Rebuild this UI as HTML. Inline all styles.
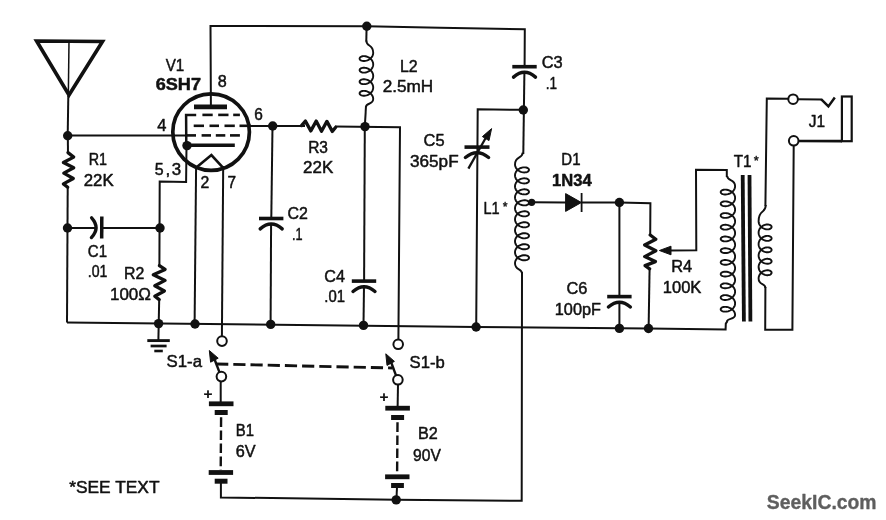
<!DOCTYPE html>
<html><head><meta charset="utf-8"><title>schematic</title>
<style>
html,body{margin:0;padding:0;background:#fff;}
body{width:886px;height:520px;overflow:hidden;}
svg{display:block;font-family:"Liberation Sans",sans-serif;}
</style></head>
<body>
<svg width="886" height="520" viewBox="0 0 886 520" stroke="#111" fill="none">
<rect x="0" y="0" width="886" height="520" fill="#fff" stroke="none"/>
<path d="M36.6 41.0 L102.5 41.5 L69.0 95.0 Z" stroke-width="3.6" stroke-linejoin="miter" stroke-linecap="butt" fill="none"/>
<line x1="69.0" y1="41.0" x2="68.3" y2="97.0" stroke-width="1.5" stroke-linecap="butt"/>
<line x1="68.3" y1="96.0" x2="67.7" y2="136.0" stroke-width="2.0" stroke-linecap="butt"/>
<line x1="67.8" y1="135.7" x2="68.0" y2="153.0" stroke-width="2.0" stroke-linecap="butt"/>
<path d="M68.0 152.6 L73.7 157.1 L63.4 162.5 L73.7 167.7 L63.8 173.1 L73.3 178.5 L63.4 183.9 L67.7 187.3" stroke-width="3.3" stroke-linejoin="round" stroke-linecap="round" fill="none"/>
<line x1="67.7" y1="186.8" x2="67.0" y2="322.6" stroke-width="2.0" stroke-linecap="butt"/>
<line x1="67.7" y1="135.6" x2="186.0" y2="135.4" stroke-width="2.0" stroke-linecap="butt"/>
<path d="M210.9 106.0 L210.5 26.0 L366.8 26.2 L440.0 27.8 L524.8 29.2 L524.6 66.0" stroke-width="2.0" stroke-linejoin="miter" stroke-linecap="butt" fill="none"/>
<line x1="524.4" y1="72.0" x2="523.3" y2="154.0" stroke-width="2.0" stroke-linecap="butt"/>
<path d="M523.3 109.8 L477.7 109.3 L476.2 327.0" stroke-width="2.0" stroke-linejoin="miter" stroke-linecap="butt" fill="none"/>
<line x1="366.6" y1="26.0" x2="366.3" y2="41.5" stroke-width="2.0" stroke-linecap="butt"/>
<line x1="366.0" y1="106.0" x2="364.8" y2="127.0" stroke-width="2.0" stroke-linecap="butt"/>
<line x1="250.0" y1="126.0" x2="305.0" y2="126.0" stroke-width="2.0" stroke-linecap="butt"/>
<path d="M301.5 125.6 L305.4 121.1 L310.8 130.9 L316.2 121.1 L321.5 131.2 L326.9 121.4 L332.3 131.4 L335.7 127.2" stroke-width="3.3" stroke-linejoin="round" stroke-linecap="round" fill="none"/>
<path d="M335.0 126.5 L400.0 127.3 L398.4 339.0" stroke-width="2.0" stroke-linejoin="miter" stroke-linecap="butt" fill="none"/>
<line x1="272.5" y1="126.0" x2="271.3" y2="218.0" stroke-width="2.0" stroke-linecap="butt"/>
<line x1="271.1" y1="223.0" x2="270.6" y2="324.0" stroke-width="2.0" stroke-linecap="butt"/>
<line x1="364.8" y1="126.5" x2="364.1" y2="280.5" stroke-width="2.0" stroke-linecap="butt"/>
<line x1="364.0" y1="285.0" x2="363.5" y2="325.0" stroke-width="2.0" stroke-linecap="butt"/>
<path d="M186.5 145.7 L186.1 181.9 L159.7 181.6 L159.4 266.5" stroke-width="2.0" stroke-linejoin="miter" stroke-linecap="butt" fill="none"/>
<path d="M159.4 265.6 L165.1 269.4 L153.3 274.8 L165.1 280.4 L154.8 285.7 L164.4 291.0 L154.8 296.2 L159.2 299.6" stroke-width="3.3" stroke-linejoin="round" stroke-linecap="round" fill="none"/>
<line x1="159.2" y1="299.0" x2="158.4" y2="340.0" stroke-width="2.0" stroke-linecap="butt"/>
<line x1="67.5" y1="228.0" x2="95.5" y2="228.0" stroke-width="2.0" stroke-linecap="butt"/>
<line x1="101.7" y1="228.0" x2="160.0" y2="228.0" stroke-width="2.0" stroke-linecap="butt"/>
<line x1="196.1" y1="166.0" x2="194.6" y2="324.0" stroke-width="2.0" stroke-linecap="butt"/>
<line x1="223.2" y1="166.0" x2="221.9" y2="336.5" stroke-width="2.0" stroke-linecap="butt"/>
<path d="M67.0 322.4 L476.0 326.9 L648.5 328.6 L725.6 329.4 L725.8 323.6 L727.5 321.0" stroke-width="2.0" stroke-linejoin="miter" stroke-linecap="butt" fill="none"/>
<path d="M522.0 272.0 L521.7 500.8 L396.0 499.8 L220.9 497.4 L220.9 482.0" stroke-width="2.0" stroke-linejoin="miter" stroke-linecap="butt" fill="none"/>
<line x1="531.7" y1="202.3" x2="566.0" y2="202.4" stroke-width="2.0" stroke-linecap="butt"/>
<line x1="581.5" y1="202.5" x2="619.4" y2="202.6" stroke-width="2.0" stroke-linecap="butt"/>
<path d="M619.4 202.4 L650.4 203.3 L650.2 236.0" stroke-width="2.0" stroke-linejoin="miter" stroke-linecap="butt" fill="none"/>
<line x1="649.6" y1="268.0" x2="648.6" y2="328.5" stroke-width="2.0" stroke-linecap="butt"/>
<line x1="619.4" y1="202.6" x2="619.4" y2="296.0" stroke-width="2.0" stroke-linecap="butt"/>
<line x1="619.4" y1="301.5" x2="619.4" y2="328.4" stroke-width="2.0" stroke-linecap="butt"/>
<path d="M670.0 250.5 L696.3 250.3 L696.0 169.8 L726.8 170.1 L726.8 177.0" stroke-width="2.0" stroke-linejoin="miter" stroke-linecap="butt" fill="none"/>
<path d="M765.4 206.0 L766.8 98.6 L788.5 98.8" stroke-width="2.0" stroke-linejoin="miter" stroke-linecap="butt" fill="none"/>
<line x1="797.6" y1="99.2" x2="822.0" y2="99.6" stroke-width="2.0" stroke-linecap="butt"/>
<path d="M821.3 99.3 L828.4 106.4 L834.8 97.6" stroke-width="2.5" stroke-linejoin="miter" stroke-linecap="butt" fill="none"/>
<path d="M765.4 287.0 L765.2 329.7 L792.4 329.7 L793.7 145.5" stroke-width="2.0" stroke-linejoin="miter" stroke-linecap="butt" fill="none"/>
<line x1="798.3" y1="141.0" x2="842.0" y2="141.1" stroke-width="2.7" stroke-linecap="butt"/>
<line x1="220.7" y1="381.0" x2="220.7" y2="403.0" stroke-width="2.0" stroke-linecap="butt"/>
<line x1="398.0" y1="384.5" x2="397.6" y2="408.0" stroke-width="2.0" stroke-linecap="butt"/>
<line x1="397.0" y1="487.0" x2="396.4" y2="500.0" stroke-width="2.0" stroke-linecap="butt"/>
<circle cx="67.7" cy="135.7" r="4.7" fill="#111" stroke="none"/>
<circle cx="67.5" cy="228.0" r="4.7" fill="#111" stroke="none"/>
<circle cx="160.0" cy="228.0" r="4.7" fill="#111" stroke="none"/>
<circle cx="187.0" cy="145.6" r="4.7" fill="#111" stroke="none"/>
<circle cx="158.6" cy="323.6" r="4.7" fill="#111" stroke="none"/>
<circle cx="195.0" cy="324.0" r="4.7" fill="#111" stroke="none"/>
<circle cx="270.7" cy="324.4" r="4.7" fill="#111" stroke="none"/>
<circle cx="272.7" cy="126.0" r="4.7" fill="#111" stroke="none"/>
<circle cx="365.0" cy="126.6" r="4.7" fill="#111" stroke="none"/>
<circle cx="366.8" cy="26.2" r="4.7" fill="#111" stroke="none"/>
<circle cx="363.5" cy="325.4" r="4.7" fill="#111" stroke="none"/>
<circle cx="476.1" cy="327.0" r="4.7" fill="#111" stroke="none"/>
<circle cx="523.3" cy="110.0" r="4.7" fill="#111" stroke="none"/>
<circle cx="619.4" cy="202.5" r="4.7" fill="#111" stroke="none"/>
<circle cx="619.4" cy="328.4" r="4.7" fill="#111" stroke="none"/>
<circle cx="648.5" cy="328.5" r="4.7" fill="#111" stroke="none"/>
<circle cx="396.2" cy="499.9" r="4.7" fill="#111" stroke="none"/>
<circle cx="531.7" cy="202.3" r="3.6" fill="#111" stroke="none"/>
<circle cx="211.1" cy="132.1" r="38.3" fill="none" stroke-width="3.7"/>
<line x1="194.0" y1="106.8" x2="227.0" y2="106.8" stroke-width="4.7" stroke-linecap="butt"/>
<path d="M186.3 146.0 L186.1 114.9 L196.2 114.9" stroke-width="2.5" stroke-linejoin="miter" stroke-linecap="butt" fill="none"/>
<line x1="202.4" y1="114.9" x2="212.7" y2="114.9" stroke-width="2.6" stroke-linecap="butt"/>
<line x1="218.2" y1="114.9" x2="228.5" y2="114.9" stroke-width="2.6" stroke-linecap="butt"/>
<line x1="233.2" y1="114.9" x2="239.9" y2="114.9" stroke-width="2.6" stroke-linecap="butt"/>
<line x1="193.7" y1="125.8" x2="204.0" y2="125.8" stroke-width="2.6" stroke-linecap="butt"/>
<line x1="209.5" y1="125.8" x2="219.0" y2="125.8" stroke-width="2.6" stroke-linecap="butt"/>
<line x1="224.5" y1="125.8" x2="234.8" y2="125.8" stroke-width="2.6" stroke-linecap="butt"/>
<line x1="239.5" y1="125.8" x2="251.0" y2="125.8" stroke-width="2.6" stroke-linecap="butt"/>
<line x1="185.0" y1="135.4" x2="196.0" y2="135.4" stroke-width="2.6" stroke-linecap="butt"/>
<line x1="201.6" y1="135.4" x2="211.0" y2="135.4" stroke-width="2.6" stroke-linecap="butt"/>
<line x1="215.8" y1="135.4" x2="225.3" y2="135.4" stroke-width="2.6" stroke-linecap="butt"/>
<line x1="230.0" y1="135.4" x2="239.9" y2="135.4" stroke-width="2.6" stroke-linecap="butt"/>
<line x1="187.0" y1="145.2" x2="234.8" y2="145.2" stroke-width="3.6" stroke-linecap="butt"/>
<path d="M196.0 167.8 L211.4 155.0 L223.2 167.8" stroke-width="2.6" stroke-linejoin="miter" stroke-linecap="butt" fill="none"/>
<line x1="512.3" y1="66.7" x2="536.7" y2="66.7" stroke-width="3.6" stroke-linecap="butt"/>
<path d="M513.5 77.1 Q524.5 67.5 535.5 77.1" stroke-width="3.4" fill="none" stroke-linecap="round" stroke-linejoin="round"/>
<line x1="259.0" y1="218.5" x2="283.4" y2="218.5" stroke-width="3.6" stroke-linecap="butt"/>
<path d="M260.2 228.9 Q271.2 219.3 282.2 228.9" stroke-width="3.4" fill="none" stroke-linecap="round" stroke-linejoin="round"/>
<line x1="351.8" y1="281.1" x2="376.2" y2="281.1" stroke-width="3.6" stroke-linecap="butt"/>
<path d="M353.0 291.5 Q364.0 281.9 375.0 291.5" stroke-width="3.4" fill="none" stroke-linecap="round" stroke-linejoin="round"/>
<line x1="607.2" y1="296.6" x2="631.6" y2="296.6" stroke-width="3.6" stroke-linecap="butt"/>
<path d="M608.4 307.0 Q619.4 297.4 630.4 307.0" stroke-width="3.4" fill="none" stroke-linecap="round" stroke-linejoin="round"/>
<line x1="464.5" y1="147.1" x2="489.5" y2="147.1" stroke-width="3.6" stroke-linecap="butt"/>
<path d="M465.4 157.5 Q477.0 147.9 488.6 157.5" stroke-width="3.4" fill="none" stroke-linecap="round" stroke-linejoin="round"/>
<line x1="468.4" y1="168.6" x2="486.5" y2="136.5" stroke-width="2.3" stroke-linecap="butt"/>
<path d="M491.6 128.6 L482.4 136.6 L489.0 140.6 Z" stroke-width="1" stroke-linejoin="miter" stroke-linecap="butt" fill="#111"/>
<line x1="101.8" y1="216.4" x2="101.7" y2="238.4" stroke-width="3.5" stroke-linecap="butt"/>
<path d="M91.6 217.8 Q100.6 227.7 91.4 237.6" stroke-width="3.3" fill="none" stroke-linecap="round" stroke-linejoin="round"/>
<path d="M366.3 40.5 C366.3 47.3 373.2 43.6 373.2 52.8 L373.12 53.87 L372.87 54.92 L372.46 55.94 L371.90 56.90 L371.21 57.78 L370.40 58.58 L369.49 59.28 L368.50 59.87 L367.46 60.34 L366.40 60.69 L365.34 60.92 L364.30 61.03 L363.31 61.02 L362.40 60.89 L361.59 60.67 L360.90 60.37 L360.34 59.99 L359.93 59.55 L359.68 59.08 L359.60 58.58 L359.68 58.09 L359.93 57.62 L360.34 57.18 L360.90 56.80 L361.59 56.50 L362.40 56.28 L363.31 56.15 L364.30 56.14 L365.34 56.25 L366.40 56.48 L367.46 56.83 L368.50 57.30 L369.49 57.89 L370.40 58.59 L371.21 59.39 L371.90 60.27 L372.46 61.23 L372.87 62.25 L373.12 63.30 L373.20 64.37 L373.12 65.44 L372.87 66.49 L372.46 67.51 L371.90 68.47 L371.21 69.35 L370.40 70.15 L369.49 70.85 L368.50 71.44 L367.46 71.91 L366.40 72.26 L365.34 72.49 L364.30 72.60 L363.31 72.59 L362.40 72.46 L361.59 72.24 L360.90 71.94 L360.34 71.56 L359.93 71.12 L359.68 70.65 L359.60 70.16 L359.68 69.66 L359.93 69.19 L360.34 68.75 L360.90 68.37 L361.59 68.07 L362.40 67.85 L363.31 67.72 L364.30 67.71 L365.34 67.82 L366.40 68.05 L367.46 68.40 L368.50 68.87 L369.49 69.46 L370.40 70.16 L371.21 70.96 L371.90 71.84 L372.46 72.80 L372.87 73.82 L373.12 74.87 L373.20 75.94 L373.12 77.01 L372.87 78.06 L372.46 79.08 L371.90 80.04 L371.21 80.92 L370.40 81.72 L369.49 82.42 L368.50 83.01 L367.46 83.48 L366.40 83.83 L365.34 84.06 L364.30 84.17 L363.31 84.16 L362.40 84.03 L361.59 83.81 L360.90 83.51 L360.34 83.13 L359.93 82.69 L359.68 82.22 L359.60 81.72 L359.68 81.23 L359.93 80.76 L360.34 80.32 L360.90 79.94 L361.59 79.64 L362.40 79.42 L363.31 79.29 L364.30 79.28 L365.34 79.39 L366.40 79.62 L367.46 79.97 L368.50 80.44 L369.49 81.03 L370.40 81.73 L371.21 82.53 L371.90 83.41 L372.46 84.37 L372.87 85.39 L373.12 86.44 L373.20 87.51 L373.12 88.58 L372.87 89.63 L372.46 90.65 L371.90 91.61 L371.21 92.49 L370.40 93.29 L369.49 93.99 L368.50 94.58 L367.46 95.05 L366.40 95.40 L365.34 95.63 L364.30 95.74 L363.31 95.73 L362.40 95.60 L361.59 95.38 L360.90 95.08 L360.34 94.70 L359.93 94.26 L359.68 93.79 L359.60 93.29 L359.68 92.80 L359.93 92.33 L360.34 91.89 L360.90 91.51 L361.59 91.21 L362.40 90.99 L363.31 90.86 L364.30 90.85 L365.34 90.96 L366.40 91.19 L367.46 91.54 L368.50 92.01 L369.49 92.60 L370.40 93.30 L371.21 94.10 L371.90 94.98 L372.46 95.94 L372.87 96.96 L373.12 98.01 L373.20 99.08 C373.2 105.0 366.0 102.6 366.0 107.0" stroke-width="1.9" fill="none" stroke-linecap="butt" stroke-linejoin="round"/>
<path d="M522.7 152.5 C522.7 159.0 515.0 155.5 515.0 164.4 L515.09 165.46 L515.34 166.49 L515.76 167.49 L516.34 168.44 L517.05 169.31 L517.89 170.09 L518.82 170.78 L519.84 171.35 L520.90 171.81 L522.00 172.15 L523.10 172.36 L524.16 172.45 L525.18 172.42 L526.11 172.29 L526.95 172.05 L527.66 171.73 L528.24 171.34 L528.66 170.89 L528.91 170.40 L529.00 169.89 L528.91 169.38 L528.66 168.89 L528.24 168.44 L527.66 168.05 L526.95 167.73 L526.11 167.49 L525.18 167.36 L524.16 167.33 L523.10 167.42 L522.00 167.64 L520.90 167.97 L519.84 168.43 L518.82 169.00 L517.89 169.69 L517.05 170.47 L516.34 171.34 L515.76 172.29 L515.34 173.29 L515.09 174.32 L515.00 175.38 L515.09 176.44 L515.34 177.47 L515.76 178.47 L516.34 179.42 L517.05 180.29 L517.89 181.07 L518.82 181.76 L519.84 182.33 L520.90 182.79 L522.00 183.12 L523.10 183.34 L524.16 183.43 L525.18 183.40 L526.11 183.27 L526.95 183.03 L527.66 182.71 L528.24 182.32 L528.66 181.87 L528.91 181.38 L529.00 180.87 L528.91 180.36 L528.66 179.87 L528.24 179.42 L527.66 179.03 L526.95 178.71 L526.11 178.47 L525.18 178.34 L524.16 178.31 L523.10 178.40 L522.00 178.62 L520.90 178.95 L519.84 179.41 L518.82 179.98 L517.89 180.67 L517.05 181.45 L516.34 182.32 L515.76 183.27 L515.34 184.27 L515.09 185.30 L515.00 186.36 L515.09 187.42 L515.34 188.45 L515.76 189.45 L516.34 190.40 L517.05 191.27 L517.89 192.05 L518.82 192.74 L519.84 193.31 L520.90 193.77 L522.00 194.11 L523.10 194.32 L524.16 194.41 L525.18 194.38 L526.11 194.25 L526.95 194.01 L527.66 193.69 L528.24 193.30 L528.66 192.85 L528.91 192.36 L529.00 191.85 L528.91 191.34 L528.66 190.85 L528.24 190.40 L527.66 190.01 L526.95 189.69 L526.11 189.45 L525.18 189.32 L524.16 189.29 L523.10 189.38 L522.00 189.59 L520.90 189.93 L519.84 190.39 L518.82 190.96 L517.89 191.65 L517.05 192.43 L516.34 193.30 L515.76 194.25 L515.34 195.25 L515.09 196.28 L515.00 197.34 L515.09 198.40 L515.34 199.43 L515.76 200.43 L516.34 201.38 L517.05 202.25 L517.89 203.03 L518.82 203.72 L519.84 204.29 L520.90 204.75 L522.00 205.09 L523.10 205.30 L524.16 205.39 L525.18 205.36 L526.11 205.23 L526.95 204.99 L527.66 204.67 L528.24 204.28 L528.66 203.83 L528.91 203.34 L529.00 202.83 L528.91 202.32 L528.66 201.83 L528.24 201.38 L527.66 200.99 L526.95 200.67 L526.11 200.43 L525.18 200.30 L524.16 200.27 L523.10 200.36 L522.00 200.58 L520.90 200.91 L519.84 201.37 L518.82 201.94 L517.89 202.63 L517.05 203.41 L516.34 204.28 L515.76 205.23 L515.34 206.23 L515.09 207.26 L515.00 208.32 L515.09 209.38 L515.34 210.41 L515.76 211.41 L516.34 212.36 L517.05 213.23 L517.89 214.01 L518.82 214.70 L519.84 215.27 L520.90 215.73 L522.00 216.06 L523.10 216.28 L524.16 216.37 L525.18 216.34 L526.11 216.21 L526.95 215.97 L527.66 215.65 L528.24 215.26 L528.66 214.81 L528.91 214.32 L529.00 213.81 L528.91 213.30 L528.66 212.81 L528.24 212.36 L527.66 211.97 L526.95 211.65 L526.11 211.41 L525.18 211.28 L524.16 211.25 L523.10 211.34 L522.00 211.56 L520.90 211.89 L519.84 212.35 L518.82 212.92 L517.89 213.61 L517.05 214.39 L516.34 215.26 L515.76 216.21 L515.34 217.21 L515.09 218.24 L515.00 219.30 L515.09 220.36 L515.34 221.39 L515.76 222.39 L516.34 223.34 L517.05 224.21 L517.89 224.99 L518.82 225.68 L519.84 226.25 L520.90 226.71 L522.00 227.04 L523.10 227.26 L524.16 227.35 L525.18 227.32 L526.11 227.19 L526.95 226.95 L527.66 226.63 L528.24 226.24 L528.66 225.79 L528.91 225.30 L529.00 224.79 L528.91 224.28 L528.66 223.79 L528.24 223.34 L527.66 222.95 L526.95 222.63 L526.11 222.39 L525.18 222.26 L524.16 222.23 L523.10 222.32 L522.00 222.54 L520.90 222.87 L519.84 223.33 L518.82 223.90 L517.89 224.59 L517.05 225.37 L516.34 226.24 L515.76 227.19 L515.34 228.19 L515.09 229.22 L515.00 230.28 L515.09 231.34 L515.34 232.37 L515.76 233.37 L516.34 234.32 L517.05 235.19 L517.89 235.97 L518.82 236.66 L519.84 237.23 L520.90 237.69 L522.00 238.03 L523.10 238.24 L524.16 238.33 L525.18 238.30 L526.11 238.17 L526.95 237.93 L527.66 237.61 L528.24 237.22 L528.66 236.77 L528.91 236.28 L529.00 235.77 L528.91 235.26 L528.66 234.77 L528.24 234.32 L527.66 233.93 L526.95 233.61 L526.11 233.37 L525.18 233.24 L524.16 233.21 L523.10 233.30 L522.00 233.51 L520.90 233.85 L519.84 234.31 L518.82 234.88 L517.89 235.57 L517.05 236.35 L516.34 237.22 L515.76 238.17 L515.34 239.17 L515.09 240.20 L515.00 241.26 L515.09 242.32 L515.34 243.35 L515.76 244.35 L516.34 245.30 L517.05 246.17 L517.89 246.95 L518.82 247.64 L519.84 248.21 L520.90 248.67 L522.00 249.00 L523.10 249.22 L524.16 249.31 L525.18 249.28 L526.11 249.15 L526.95 248.91 L527.66 248.59 L528.24 248.20 L528.66 247.75 L528.91 247.26 L529.00 246.75 L528.91 246.24 L528.66 245.75 L528.24 245.30 L527.66 244.91 L526.95 244.59 L526.11 244.35 L525.18 244.22 L524.16 244.19 L523.10 244.28 L522.00 244.50 L520.90 244.83 L519.84 245.29 L518.82 245.86 L517.89 246.55 L517.05 247.33 L516.34 248.20 L515.76 249.15 L515.34 250.15 L515.09 251.18 L515.00 252.24 L515.09 253.30 L515.34 254.33 L515.76 255.33 L516.34 256.28 L517.05 257.15 L517.89 257.93 L518.82 258.62 L519.84 259.19 L520.90 259.65 L522.00 259.99 L523.10 260.20 L524.16 260.29 L525.18 260.26 L526.11 260.13 L526.95 259.89 L527.66 259.57 L528.24 259.18 L528.66 258.73 L528.91 258.24 L529.00 257.73 L528.91 257.22 L528.66 256.73 L528.24 256.28 L527.66 255.89 L526.95 255.57 L526.11 255.33 L525.18 255.20 L524.16 255.17 L523.10 255.26 L522.00 255.48 L520.90 255.81 L519.84 256.27 L518.82 256.84 L517.89 257.53 L517.05 258.31 L516.34 259.18 L515.76 260.13 L515.34 261.13 L515.09 262.16 L515.00 263.22 C515.0 270.9 522.0 267.8 522.0 273.5" stroke-width="1.9" fill="none" stroke-linecap="butt" stroke-linejoin="round"/>
<path d="M727.2 176.0 C727.2 181.6 735.1 178.6 735.1 186.2 L735.01 187.28 L734.75 188.33 L734.32 189.35 L733.72 190.31 L732.99 191.20 L732.13 192.00 L731.17 192.71 L730.12 193.30 L729.03 193.78 L727.90 194.13 L726.77 194.36 L725.68 194.47 L724.63 194.46 L723.67 194.35 L722.81 194.13 L722.08 193.83 L721.48 193.45 L721.05 193.02 L720.79 192.55 L720.70 192.06 L720.79 191.57 L721.05 191.10 L721.48 190.67 L722.08 190.29 L722.81 189.99 L723.67 189.77 L724.63 189.66 L725.68 189.65 L726.77 189.76 L727.90 189.99 L729.03 190.34 L730.12 190.82 L731.17 191.41 L732.13 192.12 L732.99 192.92 L733.72 193.81 L734.32 194.77 L734.75 195.79 L735.01 196.84 L735.10 197.92 L735.01 199.00 L734.75 200.05 L734.32 201.07 L733.72 202.03 L732.99 202.92 L732.13 203.72 L731.17 204.43 L730.12 205.02 L729.03 205.50 L727.90 205.85 L726.77 206.08 L725.68 206.19 L724.63 206.18 L723.67 206.07 L722.81 205.85 L722.08 205.55 L721.48 205.17 L721.05 204.74 L720.79 204.27 L720.70 203.78 L720.79 203.29 L721.05 202.82 L721.48 202.39 L722.08 202.01 L722.81 201.71 L723.67 201.49 L724.63 201.38 L725.68 201.37 L726.77 201.48 L727.90 201.71 L729.03 202.06 L730.12 202.54 L731.17 203.13 L732.13 203.84 L732.99 204.64 L733.72 205.53 L734.32 206.49 L734.75 207.51 L735.01 208.56 L735.10 209.64 L735.01 210.72 L734.75 211.77 L734.32 212.79 L733.72 213.75 L732.99 214.64 L732.13 215.44 L731.17 216.15 L730.12 216.74 L729.03 217.22 L727.90 217.57 L726.77 217.80 L725.68 217.91 L724.63 217.90 L723.67 217.79 L722.81 217.57 L722.08 217.27 L721.48 216.89 L721.05 216.46 L720.79 215.99 L720.70 215.50 L720.79 215.01 L721.05 214.54 L721.48 214.11 L722.08 213.73 L722.81 213.43 L723.67 213.21 L724.63 213.10 L725.68 213.09 L726.77 213.20 L727.90 213.43 L729.03 213.78 L730.12 214.26 L731.17 214.85 L732.13 215.56 L732.99 216.36 L733.72 217.25 L734.32 218.21 L734.75 219.23 L735.01 220.28 L735.10 221.36 L735.01 222.44 L734.75 223.49 L734.32 224.51 L733.72 225.47 L732.99 226.36 L732.13 227.16 L731.17 227.87 L730.12 228.46 L729.03 228.94 L727.90 229.29 L726.77 229.52 L725.68 229.63 L724.63 229.62 L723.67 229.51 L722.81 229.29 L722.08 228.99 L721.48 228.61 L721.05 228.18 L720.79 227.71 L720.70 227.22 L720.79 226.73 L721.05 226.26 L721.48 225.83 L722.08 225.45 L722.81 225.15 L723.67 224.93 L724.63 224.82 L725.68 224.81 L726.77 224.92 L727.90 225.15 L729.03 225.50 L730.12 225.98 L731.17 226.57 L732.13 227.28 L732.99 228.08 L733.72 228.97 L734.32 229.93 L734.75 230.95 L735.01 232.00 L735.10 233.08 L735.01 234.16 L734.75 235.21 L734.32 236.23 L733.72 237.19 L732.99 238.08 L732.13 238.88 L731.17 239.59 L730.12 240.18 L729.03 240.66 L727.90 241.01 L726.77 241.24 L725.68 241.35 L724.63 241.34 L723.67 241.23 L722.81 241.01 L722.08 240.71 L721.48 240.33 L721.05 239.90 L720.79 239.43 L720.70 238.94 L720.79 238.45 L721.05 237.98 L721.48 237.55 L722.08 237.17 L722.81 236.87 L723.67 236.65 L724.63 236.54 L725.68 236.53 L726.77 236.64 L727.90 236.87 L729.03 237.22 L730.12 237.70 L731.17 238.29 L732.13 239.00 L732.99 239.80 L733.72 240.69 L734.32 241.65 L734.75 242.67 L735.01 243.72 L735.10 244.80 L735.01 245.88 L734.75 246.93 L734.32 247.95 L733.72 248.91 L732.99 249.80 L732.13 250.60 L731.17 251.31 L730.12 251.90 L729.03 252.38 L727.90 252.73 L726.77 252.96 L725.68 253.07 L724.63 253.06 L723.67 252.95 L722.81 252.73 L722.08 252.43 L721.48 252.05 L721.05 251.62 L720.79 251.15 L720.70 250.66 L720.79 250.17 L721.05 249.70 L721.48 249.27 L722.08 248.89 L722.81 248.59 L723.67 248.37 L724.63 248.26 L725.68 248.25 L726.77 248.36 L727.90 248.59 L729.03 248.94 L730.12 249.42 L731.17 250.01 L732.13 250.72 L732.99 251.52 L733.72 252.41 L734.32 253.37 L734.75 254.39 L735.01 255.44 L735.10 256.52 L735.01 257.60 L734.75 258.65 L734.32 259.67 L733.72 260.63 L732.99 261.52 L732.13 262.32 L731.17 263.03 L730.12 263.62 L729.03 264.10 L727.90 264.45 L726.77 264.68 L725.68 264.79 L724.63 264.78 L723.67 264.67 L722.81 264.45 L722.08 264.15 L721.48 263.77 L721.05 263.34 L720.79 262.87 L720.70 262.38 L720.79 261.89 L721.05 261.42 L721.48 260.99 L722.08 260.61 L722.81 260.31 L723.67 260.09 L724.63 259.98 L725.68 259.97 L726.77 260.08 L727.90 260.31 L729.03 260.66 L730.12 261.14 L731.17 261.73 L732.13 262.44 L732.99 263.24 L733.72 264.13 L734.32 265.09 L734.75 266.11 L735.01 267.16 L735.10 268.24 L735.01 269.32 L734.75 270.37 L734.32 271.39 L733.72 272.35 L732.99 273.24 L732.13 274.04 L731.17 274.75 L730.12 275.34 L729.03 275.82 L727.90 276.17 L726.77 276.40 L725.68 276.51 L724.63 276.50 L723.67 276.39 L722.81 276.17 L722.08 275.87 L721.48 275.49 L721.05 275.06 L720.79 274.59 L720.70 274.10 L720.79 273.61 L721.05 273.14 L721.48 272.71 L722.08 272.33 L722.81 272.03 L723.67 271.81 L724.63 271.70 L725.68 271.69 L726.77 271.80 L727.90 272.03 L729.03 272.38 L730.12 272.86 L731.17 273.45 L732.13 274.16 L732.99 274.96 L733.72 275.85 L734.32 276.81 L734.75 277.83 L735.01 278.88 L735.10 279.96 L735.01 281.04 L734.75 282.09 L734.32 283.11 L733.72 284.07 L732.99 284.96 L732.13 285.76 L731.17 286.47 L730.12 287.06 L729.03 287.54 L727.90 287.89 L726.77 288.12 L725.68 288.23 L724.63 288.22 L723.67 288.11 L722.81 287.89 L722.08 287.59 L721.48 287.21 L721.05 286.78 L720.79 286.31 L720.70 285.82 L720.79 285.33 L721.05 284.86 L721.48 284.43 L722.08 284.05 L722.81 283.75 L723.67 283.53 L724.63 283.42 L725.68 283.41 L726.77 283.52 L727.90 283.75 L729.03 284.10 L730.12 284.58 L731.17 285.17 L732.13 285.88 L732.99 286.68 L733.72 287.57 L734.32 288.53 L734.75 289.55 L735.01 290.60 L735.10 291.68 L735.01 292.76 L734.75 293.81 L734.32 294.83 L733.72 295.79 L732.99 296.68 L732.13 297.48 L731.17 298.19 L730.12 298.78 L729.03 299.26 L727.90 299.61 L726.77 299.84 L725.68 299.95 L724.63 299.94 L723.67 299.83 L722.81 299.61 L722.08 299.31 L721.48 298.93 L721.05 298.50 L720.79 298.03 L720.70 297.54 L720.79 297.05 L721.05 296.58 L721.48 296.15 L722.08 295.77 L722.81 295.47 L723.67 295.25 L724.63 295.14 L725.68 295.13 L726.77 295.24 L727.90 295.47 L729.03 295.82 L730.12 296.30 L731.17 296.89 L732.13 297.60 L732.99 298.40 L733.72 299.29 L734.32 300.25 L734.75 301.27 L735.01 302.32 L735.10 303.40 L735.01 304.48 L734.75 305.53 L734.32 306.55 L733.72 307.51 L732.99 308.40 L732.13 309.20 L731.17 309.91 L730.12 310.50 L729.03 310.98 L727.90 311.33 L726.77 311.56 L725.68 311.67 L724.63 311.66 L723.67 311.55 L722.81 311.33 L722.08 311.03 L721.48 310.65 L721.05 310.22 L720.79 309.75 L720.70 309.26 L720.79 308.77 L721.05 308.30 L721.48 307.87 L722.08 307.49 L722.81 307.19 L723.67 306.97 L724.63 306.86 L725.68 306.85 L726.77 306.96 L727.90 307.19 L729.03 307.54 L730.12 308.02 L731.17 308.61 L732.13 309.32 L732.99 310.12 L733.72 311.01 L734.32 311.97 L734.75 312.99 L735.01 314.04 L735.10 315.12 C735.1 319.9 727.0 318.0 727.0 321.5" stroke-width="1.9" fill="none" stroke-linecap="butt" stroke-linejoin="round"/>
<path d="M765.8 205.0 C765.8 213.9 758.6 209.1 758.6 221.2 L758.68 222.27 L758.92 223.32 L759.31 224.33 L759.84 225.28 L760.50 226.17 L761.28 226.96 L762.15 227.66 L763.09 228.25 L764.08 228.71 L765.10 229.06 L766.12 229.29 L767.11 229.39 L768.05 229.38 L768.92 229.25 L769.70 229.03 L770.36 228.72 L770.89 228.34 L771.28 227.90 L771.52 227.42 L771.60 226.92 L771.52 226.43 L771.28 225.95 L770.89 225.51 L770.36 225.13 L769.70 224.82 L768.92 224.60 L768.05 224.47 L767.11 224.46 L766.12 224.56 L765.10 224.79 L764.08 225.14 L763.09 225.60 L762.15 226.19 L761.28 226.89 L760.50 227.68 L759.84 228.57 L759.31 229.52 L758.92 230.53 L758.68 231.58 L758.60 232.65 L758.68 233.72 L758.92 234.77 L759.31 235.78 L759.84 236.73 L760.50 237.62 L761.28 238.41 L762.15 239.11 L763.09 239.70 L764.08 240.16 L765.10 240.51 L766.12 240.74 L767.11 240.84 L768.05 240.83 L768.92 240.70 L769.70 240.48 L770.36 240.17 L770.89 239.79 L771.28 239.35 L771.52 238.87 L771.60 238.38 L771.52 237.88 L771.28 237.40 L770.89 236.96 L770.36 236.58 L769.70 236.27 L768.92 236.05 L768.05 235.92 L767.11 235.91 L766.12 236.01 L765.10 236.24 L764.08 236.59 L763.09 237.05 L762.15 237.64 L761.28 238.34 L760.50 239.13 L759.84 240.02 L759.31 240.97 L758.92 241.98 L758.68 243.03 L758.60 244.10 L758.68 245.17 L758.92 246.22 L759.31 247.23 L759.84 248.18 L760.50 249.07 L761.28 249.86 L762.15 250.56 L763.09 251.15 L764.08 251.61 L765.10 251.96 L766.12 252.19 L767.11 252.29 L768.05 252.28 L768.92 252.15 L769.70 251.93 L770.36 251.62 L770.89 251.24 L771.28 250.80 L771.52 250.32 L771.60 249.82 L771.52 249.33 L771.28 248.85 L770.89 248.41 L770.36 248.03 L769.70 247.72 L768.92 247.50 L768.05 247.37 L767.11 247.36 L766.12 247.46 L765.10 247.69 L764.08 248.04 L763.09 248.50 L762.15 249.09 L761.28 249.79 L760.50 250.58 L759.84 251.47 L759.31 252.42 L758.92 253.43 L758.68 254.48 L758.60 255.55 L758.68 256.62 L758.92 257.67 L759.31 258.68 L759.84 259.63 L760.50 260.52 L761.28 261.31 L762.15 262.01 L763.09 262.60 L764.08 263.06 L765.10 263.41 L766.12 263.64 L767.11 263.74 L768.05 263.73 L768.92 263.60 L769.70 263.38 L770.36 263.07 L770.89 262.69 L771.28 262.25 L771.52 261.77 L771.60 261.27 L771.52 260.78 L771.28 260.30 L770.89 259.86 L770.36 259.48 L769.70 259.17 L768.92 258.95 L768.05 258.82 L767.11 258.81 L766.12 258.91 L765.10 259.14 L764.08 259.49 L763.09 259.95 L762.15 260.54 L761.28 261.24 L760.50 262.03 L759.84 262.92 L759.31 263.87 L758.92 264.88 L758.68 265.93 L758.60 267.00 L758.68 268.07 L758.92 269.12 L759.31 270.13 L759.84 271.08 L760.50 271.97 L761.28 272.76 L762.15 273.46 L763.09 274.05 L764.08 274.51 L765.10 274.86 L766.12 275.09 L767.11 275.19 L768.05 275.18 L768.92 275.05 L769.70 274.83 L770.36 274.52 L770.89 274.14 L771.28 273.70 L771.52 273.22 L771.60 272.72 L771.52 272.23 L771.28 271.75 L770.89 271.31 L770.36 270.93 L769.70 270.62 L768.92 270.40 L768.05 270.27 L767.11 270.26 L766.12 270.36 L765.10 270.59 L764.08 270.94 L763.09 271.40 L762.15 271.99 L761.28 272.69 L760.50 273.48 L759.84 274.37 L759.31 275.32 L758.92 276.33 L758.68 277.38 L758.60 278.45 C758.6 285.6 765.4 282.7 765.4 288.0" stroke-width="1.9" fill="none" stroke-linecap="butt" stroke-linejoin="round"/>
<line x1="742.7" y1="175.0" x2="743.9" y2="321.6" stroke-width="3.8" stroke-linecap="butt"/>
<line x1="749.5" y1="175.0" x2="750.4" y2="321.6" stroke-width="3.8" stroke-linecap="butt"/>
<path d="M565.6 193.6 L565.6 211.4 L581.4 202.5 Z" stroke-width="1" stroke-linejoin="miter" stroke-linecap="butt" fill="#111"/>
<line x1="581.6" y1="193.0" x2="581.6" y2="212.0" stroke-width="1.8" stroke-linecap="butt"/>
<path d="M650.2 235.0 L655.8 239.2 L644.7 245.0 L655.8 250.7 L644.7 256.6 L655.4 261.6 L645.1 265.6 L649.6 268.8" stroke-width="3.3" stroke-linejoin="round" stroke-linecap="round" fill="none"/>
<path d="M659.4 250.5 L671.0 246.2 L671.0 254.8 Z" stroke-width="1" stroke-linejoin="miter" stroke-linecap="butt" fill="#111"/>
<line x1="147.3" y1="340.6" x2="169.8" y2="340.6" stroke-width="2.9" stroke-linecap="butt"/>
<line x1="150.6" y1="346.0" x2="166.6" y2="346.0" stroke-width="2.7" stroke-linecap="butt"/>
<line x1="154.3" y1="351.0" x2="162.8" y2="351.0" stroke-width="2.6" stroke-linecap="butt"/>
<circle cx="222.0" cy="341.1" r="4.8" fill="#fff" stroke-width="2.0"/>
<circle cx="221.4" cy="376.6" r="4.8" fill="#fff" stroke-width="2.0"/>
<circle cx="398.2" cy="344.3" r="4.8" fill="#fff" stroke-width="2.0"/>
<circle cx="397.9" cy="379.8" r="4.8" fill="#fff" stroke-width="2.0"/>
<line x1="219.4" y1="372.2" x2="214.6" y2="359.5" stroke-width="2.4" stroke-linecap="butt"/>
<path d="M209.3 350.5 L210.6 362.2 L218.2 358.2 Z" stroke-width="1" stroke-linejoin="miter" stroke-linecap="butt" fill="#111"/>
<line x1="396.0" y1="375.4" x2="391.4" y2="363.0" stroke-width="2.4" stroke-linecap="butt"/>
<path d="M385.8 353.8 L387.0 365.4 L394.4 361.4 Z" stroke-width="1" stroke-linejoin="miter" stroke-linecap="butt" fill="#111"/>
<line x1="216.1" y1="364.0" x2="392.6" y2="368.0" stroke-width="2.9" stroke-linecap="butt" stroke-dasharray="12.2 5"/>
<line x1="208.9" y1="403.8" x2="233.5" y2="403.8" stroke-width="4.8" stroke-linecap="butt"/>
<line x1="214.7" y1="412.5" x2="227.7" y2="412.5" stroke-width="5.0" stroke-linecap="butt"/>
<line x1="221.1" y1="417.3" x2="220.7" y2="470.1" stroke-width="2.4" stroke-linecap="butt" stroke-dasharray="9.6 3.5"/>
<line x1="208.7" y1="472.5" x2="233.1" y2="472.5" stroke-width="4.8" stroke-linecap="butt"/>
<line x1="214.7" y1="481.2" x2="227.5" y2="481.2" stroke-width="5.0" stroke-linecap="butt"/>
<line x1="385.3" y1="408.2" x2="409.9" y2="408.2" stroke-width="4.8" stroke-linecap="butt"/>
<line x1="391.1" y1="417.5" x2="404.1" y2="417.5" stroke-width="5.0" stroke-linecap="butt"/>
<line x1="397.5" y1="422.3" x2="397.1" y2="474.4" stroke-width="2.4" stroke-linecap="butt" stroke-dasharray="9.6 3.5"/>
<line x1="385.1" y1="476.8" x2="409.5" y2="476.8" stroke-width="4.8" stroke-linecap="butt"/>
<line x1="391.1" y1="485.5" x2="403.9" y2="485.5" stroke-width="5.0" stroke-linecap="butt"/>
<circle cx="793.1" cy="99.2" r="4.8" fill="#fff" stroke-width="2.0"/>
<circle cx="793.7" cy="140.8" r="4.8" fill="#fff" stroke-width="2.0"/>
<rect x="841.9" y="96.5" width="9.8" height="44.7" fill="none" stroke-width="2.2"/>
<g style="filter:grayscale(1)">
<text x="165.7" y="70.7" font-size="17" textLength="18.6" lengthAdjust="spacingAndGlyphs" fill="#111" stroke="#111" stroke-width="0.5" stroke-linejoin="round">V1</text>
<text x="155.7" y="90.0" font-size="17.2" font-weight="bold" textLength="45.3" lengthAdjust="spacingAndGlyphs" fill="#111" stroke="#111" stroke-width="0.5" stroke-linejoin="round">6SH7</text>
<text x="217.7" y="87.3" font-size="17" textLength="9.0" lengthAdjust="spacingAndGlyphs" fill="#111" stroke="#111" stroke-width="0.5" stroke-linejoin="round">8</text>
<text x="254.2" y="120.0" font-size="17" textLength="8.6" lengthAdjust="spacingAndGlyphs" fill="#111" stroke="#111" stroke-width="0.5" stroke-linejoin="round">6</text>
<text x="157.2" y="130.6" font-size="17" textLength="9.2" lengthAdjust="spacingAndGlyphs" fill="#111" stroke="#111" stroke-width="0.5" stroke-linejoin="round">4</text>
<text x="154.7" y="175.3" font-size="17" textLength="8.9" lengthAdjust="spacingAndGlyphs" fill="#111" stroke="#111" stroke-width="0.5" stroke-linejoin="round">5</text>
<text x="165.6" y="175.3" font-size="17" fill="#111" stroke="#111" stroke-width="0.5" stroke-linejoin="round">,</text>
<text x="171.8" y="175.3" font-size="17" textLength="9.4" lengthAdjust="spacingAndGlyphs" fill="#111" stroke="#111" stroke-width="0.5" stroke-linejoin="round">3</text>
<text x="200.6" y="187.8" font-size="17" textLength="8.8" lengthAdjust="spacingAndGlyphs" fill="#111" stroke="#111" stroke-width="0.5" stroke-linejoin="round">2</text>
<text x="227.6" y="187.8" font-size="17" textLength="8.6" lengthAdjust="spacingAndGlyphs" fill="#111" stroke="#111" stroke-width="0.5" stroke-linejoin="round">7</text>
<text x="88.7" y="164.5" font-size="17" textLength="18.3" lengthAdjust="spacingAndGlyphs" fill="#111" stroke="#111" stroke-width="0.5" stroke-linejoin="round">R1</text>
<text x="83.7" y="185.6" font-size="17" textLength="29.9" lengthAdjust="spacingAndGlyphs" fill="#111" stroke="#111" stroke-width="0.5" stroke-linejoin="round">22K</text>
<text x="87.8" y="256.6" font-size="17" textLength="19.2" lengthAdjust="spacingAndGlyphs" fill="#111" stroke="#111" stroke-width="0.5" stroke-linejoin="round">C1</text>
<text x="87.8" y="277.4" font-size="17" textLength="19.6" lengthAdjust="spacingAndGlyphs" fill="#111" stroke="#111" stroke-width="0.5" stroke-linejoin="round">.01</text>
<text x="124.0" y="279.0" font-size="17" textLength="20.3" lengthAdjust="spacingAndGlyphs" fill="#111" stroke="#111" stroke-width="0.5" stroke-linejoin="round">R2</text>
<text x="110.0" y="300.3" font-size="17" textLength="41.0" lengthAdjust="spacingAndGlyphs" fill="#111" stroke="#111" stroke-width="0.5" stroke-linejoin="round">100&#937;</text>
<text x="287.5" y="219.3" font-size="17" textLength="20.4" lengthAdjust="spacingAndGlyphs" fill="#111" stroke="#111" stroke-width="0.5" stroke-linejoin="round">C2</text>
<text x="292.0" y="240.0" font-size="17" textLength="10.6" lengthAdjust="spacingAndGlyphs" fill="#111" stroke="#111" stroke-width="0.5" stroke-linejoin="round">.1</text>
<text x="308.2" y="152.8" font-size="17" textLength="19.8" lengthAdjust="spacingAndGlyphs" fill="#111" stroke="#111" stroke-width="0.5" stroke-linejoin="round">R3</text>
<text x="303.0" y="173.3" font-size="17" textLength="30.2" lengthAdjust="spacingAndGlyphs" fill="#111" stroke="#111" stroke-width="0.5" stroke-linejoin="round">22K</text>
<text x="400.0" y="71.7" font-size="17" textLength="17.7" lengthAdjust="spacingAndGlyphs" fill="#111" stroke="#111" stroke-width="0.5" stroke-linejoin="round">L2</text>
<text x="382.7" y="92.3" font-size="17" textLength="50.6" lengthAdjust="spacingAndGlyphs" fill="#111" stroke="#111" stroke-width="0.5" stroke-linejoin="round">2.5mH</text>
<text x="541.7" y="68.3" font-size="17" textLength="21.0" lengthAdjust="spacingAndGlyphs" fill="#111" stroke="#111" stroke-width="0.5" stroke-linejoin="round">C3</text>
<text x="545.7" y="89.0" font-size="17" textLength="11.3" lengthAdjust="spacingAndGlyphs" fill="#111" stroke="#111" stroke-width="0.5" stroke-linejoin="round">.1</text>
<text x="423.6" y="146.0" font-size="17" textLength="21.0" lengthAdjust="spacingAndGlyphs" fill="#111" stroke="#111" stroke-width="0.5" stroke-linejoin="round">C5</text>
<text x="410.0" y="166.6" font-size="17" textLength="48.6" lengthAdjust="spacingAndGlyphs" fill="#111" stroke="#111" stroke-width="0.5" stroke-linejoin="round">365pF</text>
<text x="324.3" y="281.7" font-size="17" textLength="20.7" lengthAdjust="spacingAndGlyphs" fill="#111" stroke="#111" stroke-width="0.5" stroke-linejoin="round">C4</text>
<text x="324.3" y="302.3" font-size="17" textLength="20.7" lengthAdjust="spacingAndGlyphs" fill="#111" stroke="#111" stroke-width="0.5" stroke-linejoin="round">.01</text>
<text x="483.4" y="213.8" font-size="17" textLength="16.2" lengthAdjust="spacingAndGlyphs" fill="#111" stroke="#111" stroke-width="0.5" stroke-linejoin="round">L1</text>
<text x="502.8" y="211.4" font-size="13" textLength="4.8" lengthAdjust="spacingAndGlyphs" fill="#111" stroke="#111" stroke-width="0.4" stroke-linejoin="round">*</text>
<text x="561.3" y="164.7" font-size="17" textLength="19.2" lengthAdjust="spacingAndGlyphs" fill="#111" stroke="#111" stroke-width="0.5" stroke-linejoin="round">D1</text>
<text x="552.0" y="185.5" font-size="17.2" font-weight="bold" textLength="39.6" lengthAdjust="spacingAndGlyphs" fill="#111" stroke="#111" stroke-width="0.5" stroke-linejoin="round">1N34</text>
<text x="566.5" y="294.2" font-size="17" textLength="20.9" lengthAdjust="spacingAndGlyphs" fill="#111" stroke="#111" stroke-width="0.5" stroke-linejoin="round">C6</text>
<text x="554.8" y="314.7" font-size="17" textLength="46.2" lengthAdjust="spacingAndGlyphs" fill="#111" stroke="#111" stroke-width="0.5" stroke-linejoin="round">100pF</text>
<text x="671.3" y="271.8" font-size="17" textLength="20.9" lengthAdjust="spacingAndGlyphs" fill="#111" stroke="#111" stroke-width="0.5" stroke-linejoin="round">R4</text>
<text x="662.8" y="292.9" font-size="17" textLength="38.6" lengthAdjust="spacingAndGlyphs" fill="#111" stroke="#111" stroke-width="0.5" stroke-linejoin="round">100K</text>
<text x="733.8" y="167.0" font-size="17" textLength="17.8" lengthAdjust="spacingAndGlyphs" fill="#111" stroke="#111" stroke-width="0.5" stroke-linejoin="round">T1</text>
<text x="753.8" y="164.8" font-size="13" textLength="5.0" lengthAdjust="spacingAndGlyphs" fill="#111" stroke="#111" stroke-width="0.4" stroke-linejoin="round">*</text>
<text x="808.7" y="127.0" font-size="17" textLength="16.3" lengthAdjust="spacingAndGlyphs" fill="#111" stroke="#111" stroke-width="0.5" stroke-linejoin="round">J1</text>
<text x="166.6" y="367.3" font-size="17" textLength="35.4" lengthAdjust="spacingAndGlyphs" fill="#111" stroke="#111" stroke-width="0.5" stroke-linejoin="round">S1-a</text>
<text x="409.6" y="368.4" font-size="17" textLength="35.2" lengthAdjust="spacingAndGlyphs" fill="#111" stroke="#111" stroke-width="0.5" stroke-linejoin="round">S1-b</text>
<text x="235.8" y="436.3" font-size="17" textLength="18.2" lengthAdjust="spacingAndGlyphs" fill="#111" stroke="#111" stroke-width="0.5" stroke-linejoin="round">B1</text>
<text x="235.8" y="457.0" font-size="17" textLength="19.9" lengthAdjust="spacingAndGlyphs" fill="#111" stroke="#111" stroke-width="0.5" stroke-linejoin="round">6V</text>
<text x="418.0" y="439.4" font-size="17" textLength="19.8" lengthAdjust="spacingAndGlyphs" fill="#111" stroke="#111" stroke-width="0.5" stroke-linejoin="round">B2</text>
<text x="413.0" y="460.5" font-size="17" textLength="27.8" lengthAdjust="spacingAndGlyphs" fill="#111" stroke="#111" stroke-width="0.5" stroke-linejoin="round">90V</text>
<text x="203.4" y="398.9" font-size="15" font-weight="bold" textLength="9.0" lengthAdjust="spacingAndGlyphs" fill="#111" stroke="#111" stroke-width="0.2" stroke-linejoin="round">+</text>
<text x="379.6" y="402.3" font-size="15" font-weight="bold" textLength="9.0" lengthAdjust="spacingAndGlyphs" fill="#111" stroke="#111" stroke-width="0.2" stroke-linejoin="round">+</text>
<text x="69.2" y="493.2" font-size="17" textLength="90.3" lengthAdjust="spacingAndGlyphs" fill="#111" stroke="#111" stroke-width="0.5" stroke-linejoin="round">*SEE TEXT</text>
<text x="766.8" y="508.9" font-size="21" font-weight="bold" textLength="109.8" lengthAdjust="spacingAndGlyphs" fill="#5e5e5e" stroke="#5e5e5e" stroke-width="0.35" stroke-linejoin="round">SeekIC.com</text>
</g>
</svg>
</body></html>
